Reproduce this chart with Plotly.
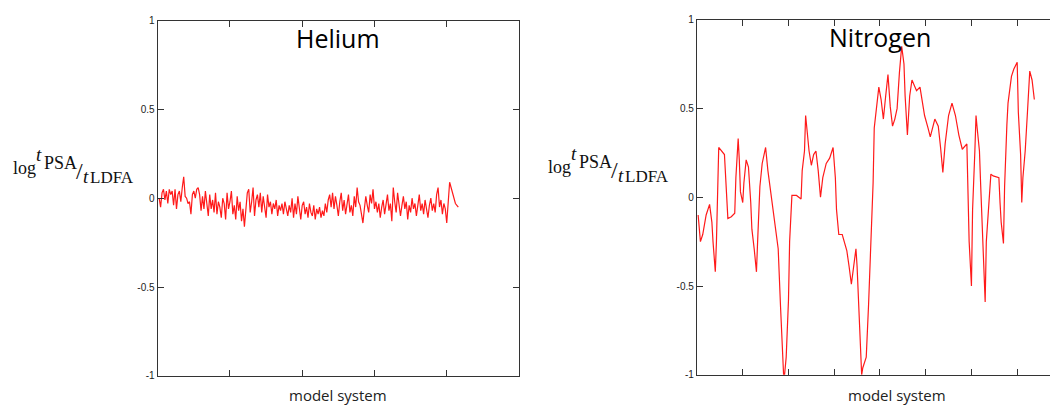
import plotly.graph_objects as go

# log(t_PSA / t_LDFA) for each model system, Helium set (index 1..208)
helium_values = [
    0.00, -0.05, 0.03, 0.05, -0.01, 0.04, -0.03, 0.05, 0.02, 0.04,
    -0.04, 0.05, -0.06, 0.02, 0.04, -0.02, 0.06, 0.12, 0.01, 0.00,
    -0.03, -0.02, -0.09, 0.02, 0.04, 0.00, 0.05, 0.06, 0.02, -0.07,
    0.01, -0.06, 0.04, -0.02, -0.10, 0.02, -0.06, -0.01, -0.08, 0.03,
    -0.09, -0.02, -0.05, -0.11, 0.00, -0.03, -0.12, 0.03, -0.06, -0.02,
    0.04, -0.09, -0.04, -0.12, 0.01, -0.07, -0.02, -0.13, -0.06, -0.16,
    -0.04, 0.03, 0.05, -0.08, -0.02, 0.06, -0.10, -0.01, 0.02, -0.05,
    0.03, -0.08, 0.01, -0.04, -0.11, 0.02, -0.05, -0.02, -0.09, -0.03,
    -0.06, -0.01, -0.10, -0.04, -0.07, -0.03, -0.09, -0.02, -0.06, -0.10,
    -0.04, -0.08, 0.00, -0.11, -0.03, -0.09, 0.01, -0.06, -0.12, -0.04,
    -0.02, -0.09, -0.05, -0.11, -0.03, -0.08, -0.10, -0.04, -0.12, -0.06,
    -0.09, -0.05, -0.11, -0.07, -0.10, -0.03, -0.08, -0.01, 0.02, -0.05,
    0.03, -0.06, 0.01, -0.04, -0.10, -0.02, 0.03, -0.07, -0.01, -0.09,
    -0.03, 0.02, -0.08, -0.04, -0.10, 0.01, -0.05, 0.06, -0.02, -0.04,
    -0.09, -0.14, -0.06, 0.01, -0.04, -0.08, 0.02, -0.03, 0.05, -0.06,
    -0.02, -0.08, -0.03, -0.11, -0.05, -0.01, -0.09, -0.04, 0.02, -0.07,
    -0.03, -0.13, 0.06, -0.02, -0.08, 0.03, -0.05, -0.10, -0.04, 0.01,
    -0.06, -0.02, -0.12, -0.04, -0.08, 0.00, -0.06, -0.03, -0.10, -0.05,
    0.02, -0.07, -0.03, -0.09, -0.01, -0.06, -0.11, -0.04, 0.00, -0.07,
    -0.03, -0.08, 0.02, 0.06, -0.05, -0.01, -0.09, -0.03, -0.06, -0.14,
    -0.02, 0.09, 0.06, 0.03, -0.01, -0.03, -0.04, -0.05,
]
helium_systems = list(range(1, len(helium_values) + 1))

# Nitrogen set: model-system index and log(t_PSA / t_LDFA)
nitrogen_systems = [
    1, 3, 5, 8, 11, 13, 14, 16, 17, 18, 19, 24, 26, 27, 30, 33, 34, 36, 37, 38,
    40, 41, 43, 45, 47, 48, 50, 52, 53, 55, 57, 60, 62, 65, 68, 71, 73, 75, 76, 78,
    80, 81, 83, 87, 91, 92, 94, 95, 97, 98, 100, 102, 104, 106, 108, 110, 113, 116, 119, 121,
    122, 124, 127, 129, 131, 133, 135, 137, 139, 140, 142, 144, 145, 148, 150, 152, 154, 155, 157, 159,
    161, 163, 165, 167, 169, 171, 173, 175, 177, 179, 181, 182, 184, 186, 188, 192, 195, 199, 202, 204,
    208, 211, 213, 215, 217, 220, 223, 226, 229, 232, 236, 237, 238, 240, 241, 243, 244, 245, 247, 248,
    250, 252, 253, 255, 257, 259, 264, 265, 266, 268, 269, 271, 272, 275, 277, 280, 281, 283, 284, 285,
    287, 289, 291, 293, 294, 295,
]
nitrogen_values = [
    -0.10, -0.25, -0.21, -0.10, -0.04, -0.14, -0.25, -0.42, -0.25, 0.10, 0.28, 0.24, 0.04, -0.12, -0.11, -0.09, 0.11, 0.33, 0.21, 0.03,
    -0.03, 0.08, 0.21, 0.17, -0.03, -0.18, -0.29, -0.42, -0.25, 0.06, 0.19, 0.28, 0.15, 0.01, -0.14, -0.29, -0.61, -0.98, -1.04, -0.90,
    -0.58, -0.25, 0.01, 0.01, -0.01, 0.15, 0.26, 0.46, 0.33, 0.26, 0.18, 0.24, 0.26, 0.15, 0.00, 0.11, 0.19, 0.22, 0.28, 0.11,
    -0.07, -0.21, -0.21, -0.25, -0.30, -0.39, -0.49, -0.39, -0.29, -0.39, -0.72, -1.00, -0.96, -0.90, -0.61, -0.30, 0.08, 0.39, 0.50, 0.62,
    0.55, 0.44, 0.57, 0.69, 0.51, 0.40, 0.44, 0.50, 0.70, 0.85, 0.75, 0.57, 0.35, 0.57, 0.66, 0.60, 0.62, 0.46, 0.39, 0.34,
    0.44, 0.40, 0.28, 0.14, 0.30, 0.46, 0.53, 0.46, 0.35, 0.27, 0.30, -0.05, -0.25, -0.50, -0.07, 0.26, 0.46, 0.39, 0.26, 0.08,
    -0.32, -0.59, -0.25, -0.07, 0.13, 0.12, 0.11, -0.03, -0.14, -0.26, 0.06, 0.41, 0.53, 0.68, 0.72, 0.76, 0.48, 0.24, -0.03, 0.11,
    0.26, 0.48, 0.71, 0.66, 0.61, 0.55,
]

y_ticks = [-1, -0.5, 0, 0.5, 1]
y_tick_labels = ["-1", "-0.5", "0", "0.5", "1"]
helium_x_ticks = [50, 100, 150, 200]
nitrogen_x_ticks = [40, 80, 120, 160, 200, 240, 280]
panel_titles = ["Helium", "Nitrogen"]
x_title = "model system"

W, H = 1050, 409
LINE = "#333333"
RED = "#ff1a1a"


def px(x):
    return x / W


def py(y):
    return 1 - y / H


fig = go.Figure()
fig.add_trace(go.Scatter(x=helium_systems, y=helium_values, mode="lines",
                         line=dict(color=RED, width=1.2), xaxis="x", yaxis="y",
                         showlegend=False))
fig.add_trace(go.Scatter(x=nitrogen_systems, y=nitrogen_values, mode="lines",
                         line=dict(color=RED, width=1.2), xaxis="x2", yaxis="y2",
                         showlegend=False))

axis_common = dict(showgrid=False, zeroline=False, showline=True, linecolor=LINE,
                   linewidth=1.3, ticks="inside", ticklen=6, tickcolor=LINE, tickwidth=1.2)
yfont = dict(family="Liberation Sans, Arial, sans-serif", size=10, color="#222222")

fig.update_layout(
    width=W, height=H, margin=dict(l=0, r=0, t=0, b=0),
    paper_bgcolor="white", plot_bgcolor="white",
    xaxis=dict(domain=[px(157.7), px(519)], range=[0, 250], tickvals=helium_x_ticks,
               showticklabels=False, mirror="ticks", anchor="y", **axis_common),
    yaxis=dict(domain=[py(381), py(15)], range=[-1, 1], tickvals=y_ticks,
               ticktext=y_tick_labels, tickfont=yfont, mirror="ticks", anchor="x",
               **axis_common),
    xaxis2=dict(domain=[px(697), 1.0], range=[0, 308.7], tickvals=nitrogen_x_ticks,
                showticklabels=False, mirror="ticks", anchor="y2", **axis_common),
    yaxis2=dict(domain=[py(380), py(14)], range=[-1, 1], tickvals=y_ticks,
                ticktext=y_tick_labels, tickfont=yfont, mirror=False, anchor="x2",
                **axis_common),
)

annotations = []
title_font = dict(family="Open Sans, sans-serif", size=25, color="black")
for label, cx, cy in [(panel_titles[0], 338, 33), (panel_titles[1], 880, 32)]:
    annotations.append(dict(text=label, x=px(cx), y=py(cy), xref="paper", yref="paper",
                            xanchor="center", yanchor="middle", showarrow=False,
                            font=title_font))

xt_font = dict(family="Open Sans, sans-serif", size=15, color="#222222")
for cx in (338, 897):
    annotations.append(dict(text=x_title, x=px(cx), y=py(413), xref="paper",
                            yref="paper", xanchor="center", yanchor="bottom",
                            showarrow=False, font=xt_font))

# y-axis label: log t_PSA / t_LDFA, set as a slanted fraction
serif = "Liberation Serif, Times New Roman, serif"
label_parts = [
    ("log", 11, 167, 18),
    ("<i>t</i>", 34, 153, 19),
    ("PSA", 42, 162, 18),
    ("/", 74, 170, 24),
    ("<i>t</i>", 81, 176, 19),
    ("LDFA", 88, 177, 17),
]
for ox, oy in [(0, 0), (535, -1)]:
    for text, lx, ly, fs in label_parts:
        annotations.append(dict(text=text, x=px(lx + ox), y=py(ly + oy), xref="paper",
                                yref="paper", xanchor="left", yanchor="middle",
                                showarrow=False,
                                font=dict(family=serif, size=fs, color="#111111")))

fig.update_layout(annotations=annotations)
fig.write_html("out.html")
